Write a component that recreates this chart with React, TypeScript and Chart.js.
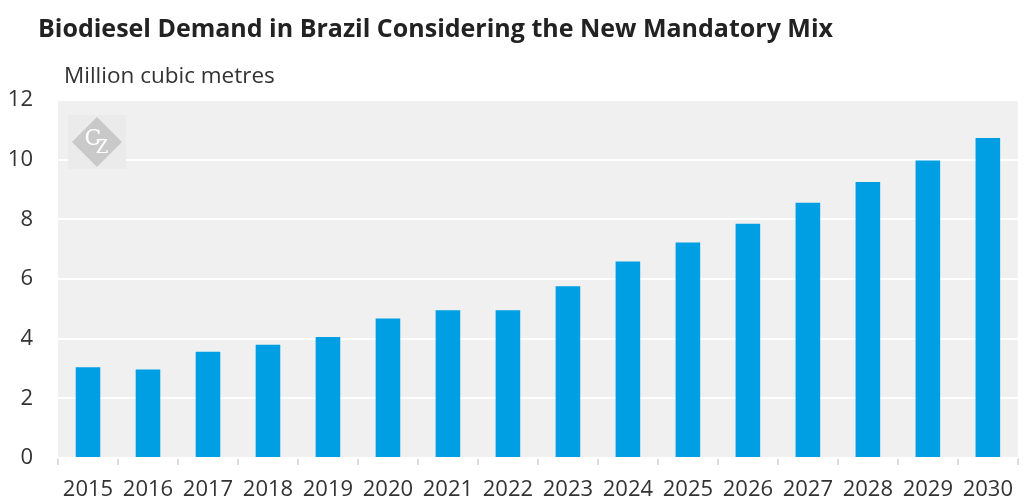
import React, { useEffect, useRef } from "react";
import { Chart, registerables } from "chart.js";

Chart.register(...registerables);

const title = "Biodiesel Demand in Brazil Considering the New Mandatory Mix";
const unitLabel = "Million cubic metres";
const years = ["2015","2016","2017","2018","2019","2020","2021","2022","2023","2024","2025","2026","2027","2028","2029","2030"];
const demand = [3.04, 2.97, 3.56, 3.8, 4.06, 4.68, 4.95, 4.95, 5.76, 6.59, 7.22, 7.85, 8.56, 9.25, 9.97, 10.73];
const yTicks = [0, 2, 4, 6, 8, 10, 12];

const FONT = "'Open Sans', 'Noto Sans', sans-serif";

const decorPlugin = {
  id: "decor",
  beforeDraw(chart: any) {
    const { ctx, chartArea } = chart;
    ctx.save();
    ctx.fillStyle = "#f0f0f0";
    ctx.fillRect(chartArea.left, chartArea.top, chartArea.right - chartArea.left, chartArea.bottom - chartArea.top);
    ctx.restore();
  },
  beforeDatasetsDraw(chart: any) {
    const { ctx, chartArea } = chart;
    const cx = chartArea.left + 39;
    const cy = chartArea.top + 42;
    ctx.save();
    ctx.fillStyle = "#ebebeb";
    ctx.fillRect(cx - 29, cy - 27, 58, 54);
    ctx.beginPath();
    ctx.moveTo(cx, cy - 25);
    ctx.lineTo(cx + 25, cy);
    ctx.lineTo(cx, cy + 25);
    ctx.lineTo(cx - 25, cy);
    ctx.closePath();
    ctx.fillStyle = "#c9c9c9";
    ctx.fill();
    ctx.fillStyle = "#ffffff";
    ctx.textAlign = "center";
    ctx.textBaseline = "middle";
    ctx.font = "22px 'DejaVu Serif', serif";
    ctx.fillText("C", cx - 4, cy - 3);
    ctx.font = "18px 'DejaVu Serif', serif";
    ctx.fillText("Z", cx + 5, cy + 6);
    ctx.restore();
  },
  afterDraw(chart: any) {
    const { ctx } = chart;
    ctx.save();
    ctx.fillStyle = "#222222";
    ctx.textAlign = "left";
    ctx.textBaseline = "alphabetic";
    ctx.font = `bold 25px ${FONT}`;
    ctx.fillText(title, 38, 37);
    ctx.fillStyle = "#333333";
    ctx.font = `22.5px ${FONT}`;
    ctx.fillText(unitLabel, 64, 83);
    ctx.restore();
  },
};

export default function App() {
  const ref = useRef<HTMLCanvasElement | null>(null);
  useEffect(() => {
    if (!ref.current) return;
    const chart = new Chart(ref.current, {
      type: "bar",
      data: {
        labels: years,
        datasets: [
          {
            data: demand,
            backgroundColor: "#009fe3",
            borderWidth: 0,
            categoryPercentage: 1,
            barPercentage: 0.41,
          },
        ],
      },
      options: {
        responsive: false,
        animation: false,
        layout: { padding: { top: 100, right: 0, left: 0, bottom: 0 } },
        plugins: { legend: { display: false }, tooltip: { enabled: false } },
        scales: {
          x: {
            offset: true,
            border: { display: false },
            grid: {
              offset: true,
              drawOnChartArea: false,
              drawTicks: true,
              tickLength: 7,
              color: "#dddddd",
              lineWidth: 2,
            },
            ticks: {
              color: "#333333",
              font: { family: FONT, size: 22 },
              padding: 12,
              maxRotation: 0,
              autoSkip: false,
            },
            afterFit(scale: any) {
              scale.height = 42;
            },
          },
          y: {
            min: 0,
            max: 12,
            border: { display: false },
            afterBuildTicks(scale: any) {
              scale.ticks = yTicks.map((v) => ({ value: v }));
            },
            grid: {
              color: "#ffffff",
              lineWidth: 2,
              drawTicks: false,
            },
            ticks: {
              color: "#333333",
              font: { family: FONT, size: 22 },
              padding: 25,
            },
            afterFit(scale: any) {
              scale.width = 58;
            },
          },
        },
      },
      plugins: [decorPlugin],
    });
    return () => chart.destroy();
  }, []);
  return (
    <div style={{ position: "absolute", left: 0, top: 0, width: 1025, height: 500, background: "#ffffff" }}>
      <canvas ref={ref} width={1025} height={500} style={{ display: "block" }} />
    </div>
  );
}
